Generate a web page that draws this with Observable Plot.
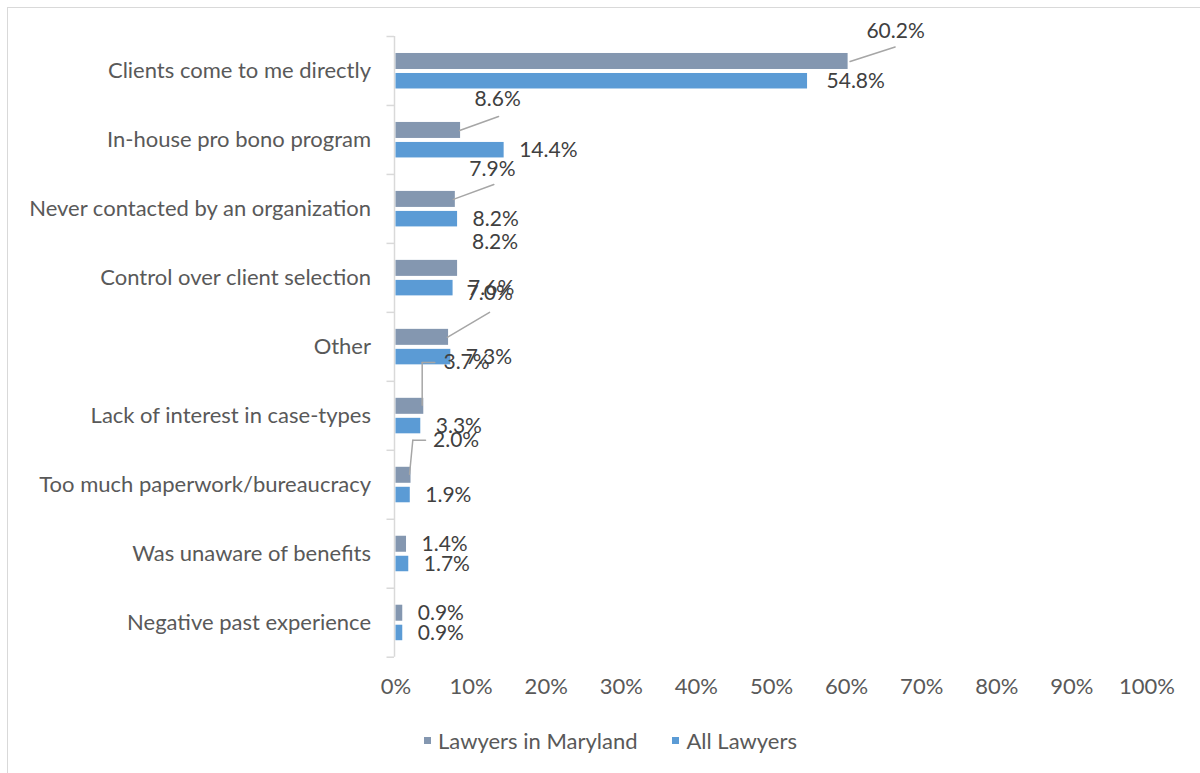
<!DOCTYPE html>
<html><head><meta charset="utf-8">
<script src="https://cdn.jsdelivr.net/npm/d3@7"></script>
<script src="https://cdn.jsdelivr.net/npm/@observablehq/plot@0.6"></script>
<style>
html,body{margin:0;padding:0;background:#fff;overflow:hidden;width:1200px;height:773px}
#frame{position:absolute;left:7px;top:7px;width:1400px;height:1000px;border:1px solid #d9d9d9;box-sizing:border-box;pointer-events:none}
#chart{position:absolute;left:0;top:0}
#legend{position:absolute;top:727px;left:424px;font-family:Lato,sans-serif;font-size:22px;color:#595959;display:flex;align-items:center;white-space:nowrap}
.sw{display:inline-block;width:7px;height:7px;margin-right:7px}
.item{display:flex;align-items:center;margin-right:35px}
</style></head><body>
<div id="chart"></div><div id="legend"></div><div id="frame"></div>
<script>
// ---- data ----
const categories = [
  "Clients come to me directly",
  "In-house pro bono program",
  "Never contacted by an organization",
  "Control over client selection",
  "Other",
  "Lack of interest in case-types",
  "Too much paperwork/bureaucracy",
  "Was unaware of benefits",
  "Negative past experience"
];
const seriesNames = ["Lawyers in Maryland", "All Lawyers"];
const marylandValues = [60.2, 8.6, 7.9, 8.2, 7.0, 3.7, 2.0, 1.4, 0.9];
const allLawyersValues = [54.8, 14.4, 8.2, 7.6, 7.3, 3.3, 1.9, 1.7, 0.9];
const xTicks = [0, 10, 20, 30, 40, 50, 60, 70, 80, 90, 100];

// ---- styles ----
const seriesColors = ["#8497B0", "#5B9BD5"];
const W = 1200, H = 710, mTop = 36, mBottom = 53.3, mLeft = 395.5, mRight = 53.5;
const step = (H - mTop - mBottom) / categories.length;
const barCenter = [-9.5, 10.25];           // offset of each series' bar centre from band centre
const barInsets = [[step/2 - 17.5, step/2 + 1.5], [step/2 + 2.5, step/2 - 18]];
// label nudges (pixels, relative to bar end / bar centre), like Excel's moved labels
const labelNudges = [
  {s: 0, c: 0, dx: 18.3, dy: -30.5},
  {s: 0, c: 1, dx: 14, dy: -31.6},
  {s: 0, c: 2, dx: 14, dy: -30.6},
  {s: 0, c: 3, dx: 14.4, dy: -26.3},
  {s: 0, c: 4, dx: 18, dy: -44},
  {s: 0, c: 5, dx: 19.7, dy: -44},
  {s: 0, c: 6, dx: 22, dy: -35},
  {s: 1, c: 0, dx: 19, dy: 0}
];
// leader lines: segments [dx, dy, length, rotate]
const leaders = [
  {s: 0, c: 0, segs: [[2, 0, 47.3, 72.1]]},
  {s: 0, c: 1, segs: [[-1, 0, 41.4, 70.3]]},
  {s: 0, c: 2, segs: [[-2, 0, 43.2, 69.7]]},
  {s: 0, c: 4, segs: [[-1.3, 0, 49.1, 59.4]]},
  {s: 0, c: 5, segs: [[-1.6, -1, 42.7, 0], [-1.6, -43.7, 12.6, 90]]},
  {s: 0, c: 6, segs: [[-1.5, -1, 34.2, 5.5], [1.8, -35, 12.7, 90]]}
];

const rows = categories.flatMap((c, i) => [
  {category: c, ci: i, s: 0, series: seriesNames[0], value: marylandValues[i]},
  {category: c, ci: i, s: 1, series: seriesNames[1], value: allLawyersValues[i]}
]);
const fmt = d => d.value.toFixed(1) + "%";
const isNudged = d => labelNudges.some(n => n.s === d.s && n.c === d.ci);
const line = {draw(ctx, l) { ctx.moveTo(0, 0); ctx.lineTo(0, -l); }};

const marks = [];
// y axis line and boundary ticks
marks.push(Plot.ruleX([0], {stroke: "#d9d9d9", strokeWidth: 1.5, dx: -1.5}));
marks.push(Plot.ruleY(categories, {y: d => d, x1: -1, x2: 0, dx: -1.5, dy: -step/2, stroke: "#d9d9d9", strokeWidth: 1.5}));
marks.push(Plot.ruleY(categories.slice(-1), {y: d => d, x1: -1, x2: 0, dx: -1.5, dy: step/2, stroke: "#d9d9d9", strokeWidth: 1.5}));
// bars
for (const s of [0, 1]) {
  marks.push(Plot.barX(rows.filter(d => d.s === s), {
    x: "value", y: "category", fill: seriesColors[s],
    insetTop: barInsets[s][0], insetBottom: barInsets[s][1]
  }));
}
// leader lines
for (const L of leaders) {
  const r = rows.filter(d => d.s === L.s && d.ci === L.c);
  for (const [dx, dy, len, rot] of L.segs) {
    marks.push(Plot.vector(r, {x: "value", y: "category", length: len, rotate: rot, anchor: "start",
      shape: line, dx, dy: barCenter[L.s] + dy, stroke: "#a6a6a6", strokeWidth: 1.5}));
  }
}
// default labels
for (const s of [0, 1]) {
  marks.push(Plot.text(rows.filter(d => d.s === s && !isNudged(d)), {
    x: "value", y: "category", text: fmt, dx: 15, dy: barCenter[s],
    textAnchor: "start", lineAnchor: "middle", fill: "#404040", fontSize: 21
  }));
}
// nudged labels
for (const n of labelNudges) {
  marks.push(Plot.text(rows.filter(d => d.s === n.s && d.ci === n.c), {
    x: "value", y: "category", text: fmt, dx: n.dx, dy: barCenter[n.s] + n.dy,
    textAnchor: "start", lineAnchor: "middle", fill: "#404040", fontSize: 21
  }));
}
marks.push(Plot.axisY({tickSize: 0, tickPadding: 25, fill: "#595959", fontSize: 22, label: null}));
marks.push(Plot.axisX(xTicks, {tickSize: 0, tickPadding: 21, tickFormat: d => d + "%", fill: "#595959", fontSize: 22, label: null}));

const chart = Plot.plot({
  width: W, height: H,
  marginTop: mTop, marginBottom: mBottom, marginLeft: mLeft, marginRight: mRight,
  style: {fontFamily: "Lato, sans-serif", fontSize: "22px", color: "#595959", background: "transparent"},
  x: {domain: [0, 100]},
  y: {domain: categories, padding: 0, round: false},
  marks
});
document.getElementById("chart").appendChild(chart);

const legend = document.getElementById("legend");
seriesNames.forEach((name, i) => {
  const item = document.createElement("span");
  item.className = "item";
  const sw = document.createElement("span");
  sw.className = "sw";
  sw.style.background = seriesColors[i];
  const t = document.createElement("span");
  t.textContent = name;
  item.appendChild(sw); item.appendChild(t);
  legend.appendChild(item);
});
</script>
</body></html>
